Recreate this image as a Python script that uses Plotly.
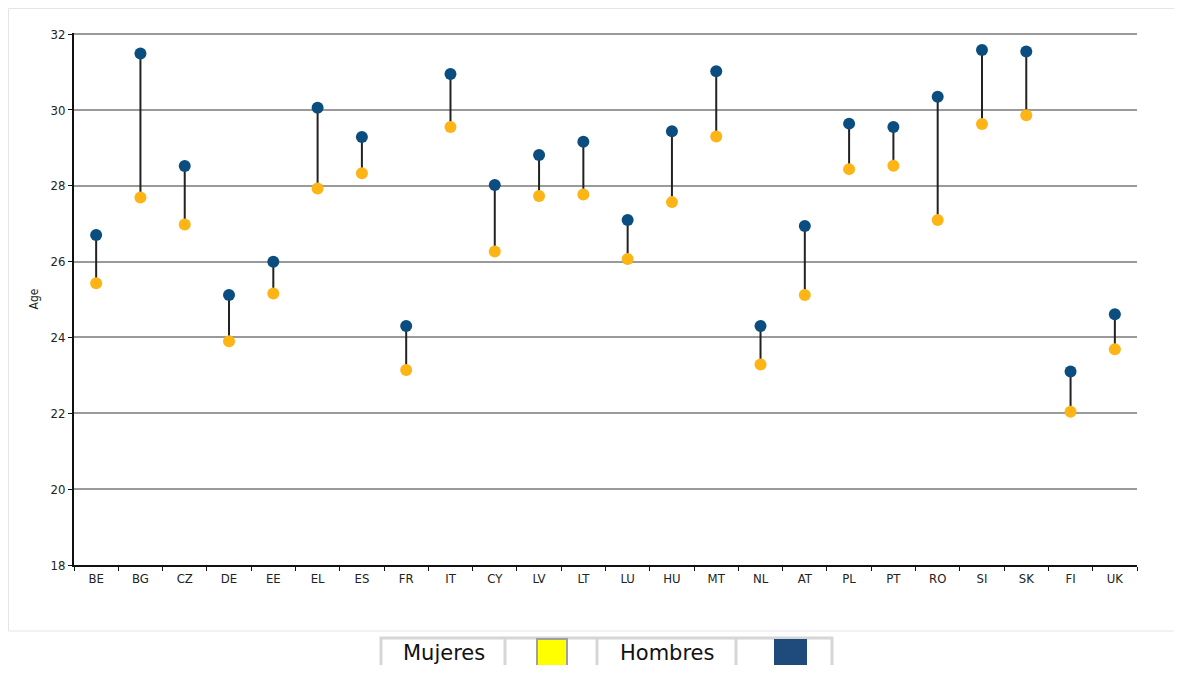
import plotly.graph_objects as go

countries = ["BE", "BG", "CZ", "DE", "EE", "EL", "ES", "FR", "IT", "CY", "LV", "LT",
             "LU", "HU", "MT", "NL", "AT", "PL", "PT", "RO", "SI", "SK", "FI", "UK"]
hombres = [26.70, 31.49, 28.52, 25.12, 26.00, 30.06, 29.29, 24.30, 30.95, 28.02, 28.81, 29.16,
           27.10, 29.44, 31.02, 24.30, 26.94, 29.64, 29.55, 30.35, 31.58, 31.54, 23.10, 24.61]
mujeres = [25.43, 27.69, 26.98, 23.90, 25.16, 27.93, 28.33, 23.14, 29.55, 26.27, 27.73, 27.77,
           26.07, 27.57, 29.30, 23.29, 25.12, 28.44, 28.53, 27.10, 29.63, 29.86, 22.04, 23.69]
y_ticks = [18, 20, 22, 24, 26, 28, 30, 32]
legend_labels = ["Mujeres", "Hombres"]

BLUE = "#0a4d7e"
ORANGE = "#fdb515"
OFF = 8  # page body margin
W, H = 1182 - 2 * OFF, 673 - 2 * OFF
# plot area in window pixels
L, R, T, B = 74, 1137, 33, 565

def px(x):
    return (x - L) / (R - L)

def py(y):
    return (B - y) / (B - T)

# connector lines
lx, ly = [], []
for c, m, h in zip(countries, mujeres, hombres):
    lx += [c, c, None]
    ly += [m, h, None]

fig = go.Figure()
fig.add_trace(go.Scatter(x=lx, y=ly, mode="lines", line=dict(color="#222222", width=2),
                         hoverinfo="skip", showlegend=False))
fig.add_trace(go.Scatter(x=countries, y=mujeres, mode="markers", name="Mujeres",
                         marker=dict(color=ORANGE, size=12), showlegend=False))
fig.add_trace(go.Scatter(x=countries, y=hombres, mode="markers", name="Hombres",
                         marker=dict(color=BLUE, size=12), showlegend=False))

tick_font = dict(family="Liberation Sans Narrow, DejaVu Sans Condensed, Arial Narrow, sans-serif",
                 size=13, color="#222222")

fig.update_layout(
    width=W, height=H,
    margin=dict(l=L - OFF, r=(W + OFF) - R, t=T - OFF, b=(H + OFF) - B, pad=0),
    paper_bgcolor="white", plot_bgcolor="white",
    xaxis=dict(type="category", categoryorder="array", categoryarray=countries,
               range=[-0.5, len(countries) - 0.5], showgrid=False,
               showline=True, linecolor="#111111", linewidth=2,
               ticks="outside", tickson="boundaries", ticklen=4, tickcolor="#111111",
               tickfont=tick_font),
    yaxis=dict(range=[18, 32.03], tickvals=y_ticks, showgrid=True, gridcolor="#9a9a9a",
               gridwidth=2, showline=True, linecolor="#111111", linewidth=2,
               ticks="outside", ticklen=4, tickcolor="#111111", tickfont=tick_font,
               zeroline=False,
               title=dict(text="Age", font=dict(family="Liberation Sans Narrow, DejaVu Sans Condensed, sans-serif",
                                                size=12, color="#222222"), standoff=9)),
)

shapes = []
# faint outer frame
shapes.append(dict(type="rect", xref="paper", yref="paper",
                   x0=px(8.5), x1=px(1200), y0=py(631), y1=py(8.5),
                   line=dict(color="#e4e4ec", width=1), layer="below"))
# legend table
for xb in [381, 505, 597, 736, 832]:
    shapes.append(dict(type="line", xref="paper", yref="paper",
                       x0=px(xb), x1=px(xb), y0=py(637), y1=py(690),
                       line=dict(color="#d6d6d6", width=3)))
shapes.append(dict(type="line", xref="paper", yref="paper",
                   x0=px(380), x1=px(833), y0=py(638), y1=py(638),
                   line=dict(color="#d6d6d6", width=3)))
shapes.append(dict(type="rect", xref="paper", yref="paper",
                   x0=px(537), x1=px(567), y0=py(672), y1=py(639),
                   fillcolor="#ffff00", line=dict(color="#a0a0a0", width=2)))
shapes.append(dict(type="rect", xref="paper", yref="paper",
                   x0=px(774), x1=px(807), y0=py(690), y1=py(639),
                   fillcolor="#1f4a7c", line=dict(width=0)))
fig.update_layout(shapes=shapes)

for lab, cx in zip(legend_labels, [444, 667]):
    fig.add_annotation(text=lab, xref="paper", yref="paper", x=px(cx), y=py(653),
                       xanchor="center", yanchor="middle", showarrow=False,
                       font=dict(family="DejaVu Sans, Verdana, sans-serif", size=21, color="#111111"))

fig.write_html("out.html")
